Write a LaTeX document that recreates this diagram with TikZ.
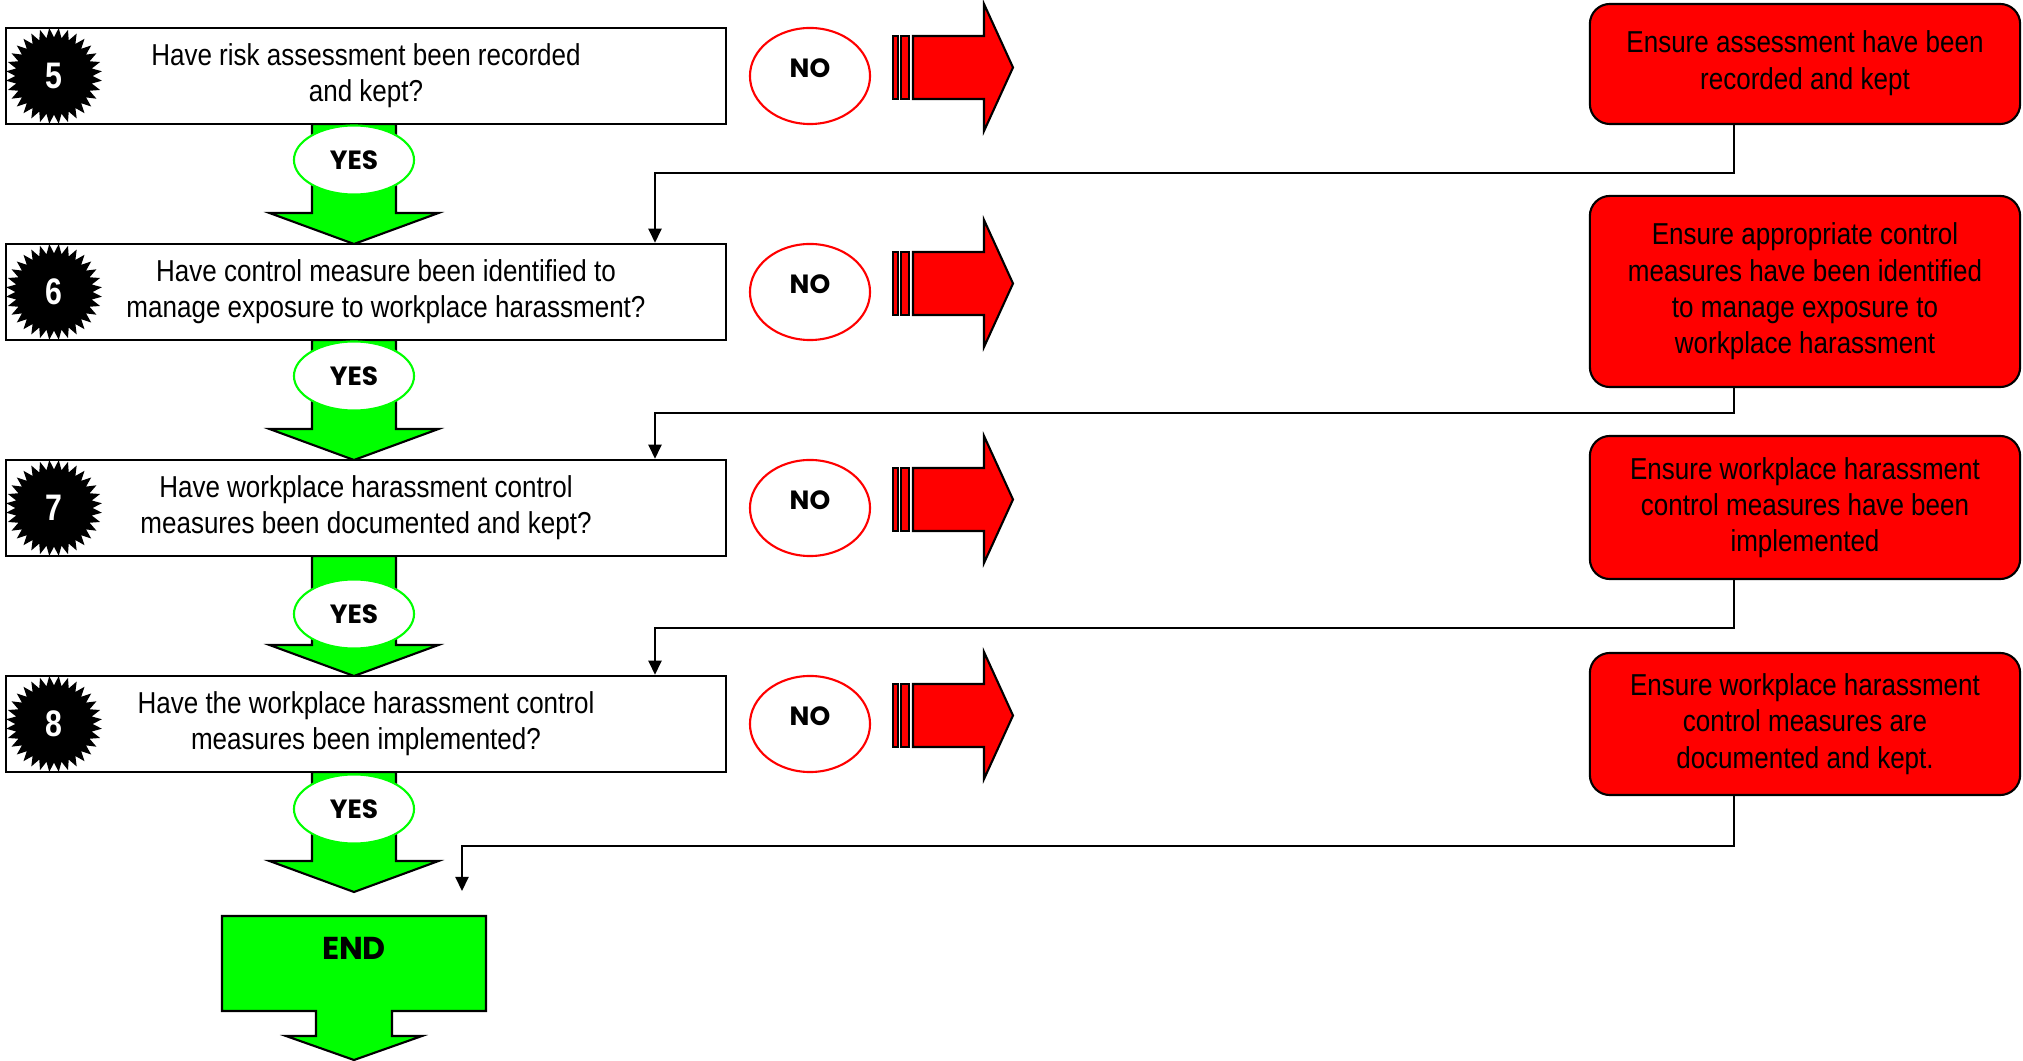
\documentclass[tikz,border=0pt]{standalone}
\usepackage{fontspec}
\setmainfont{Liberation Sans}[FakeStretch=0.86]
\newfontfamily\gothicfont{Poppins}
\newfontfamily\numfont{Liberation Sans}[FakeStretch=0.82]
\usetikzlibrary{shapes.geometric, arrows.meta, calc}
\definecolor{alarm}{HTML}{FF0000}
\definecolor{go}{HTML}{00FF00}
\begin{document}
\begin{tikzpicture}[
  x=0.01cm, y=-0.01cm,
  font=\fontsize{8.6}{10.3}\selectfont,
  question/.style={draw, line width=0.7pt, fill=white, minimum width=7.2cm, minimum height=0.96cm, align=center, inner sep=0pt},
  badge/.style={star, star points=32, star point ratio=0.8, fill=black, minimum size=0.77cm, inner sep=0pt, text=white, font=\numfont\bfseries\fontsize{10.5}{11}\selectfont},
  noball/.style={ellipse, draw=alarm, line width=0.6pt, fill=white, minimum width=1.2cm, minimum height=0.96cm, inner sep=0pt, text height=5.3pt, text depth=4.6pt, font=\gothicfont\bfseries\fontsize{7.5}{8}\selectfont},
  yesball/.style={ellipse, draw=go, line width=0.6pt, fill=white, minimum width=1.2cm, minimum height=0.69cm, inner sep=0pt, font=\gothicfont\bfseries\fontsize{7.5}{8}\selectfont},
  fixbox/.style={draw, line width=0.6pt, fill=alarm, rounded corners=0.2cm, minimum width=4.3cm, align=center, inner sep=0pt},
  link/.style={-{Triangle[length=1.4mm, width=1.3mm]}, line width=0.6pt},
  stopfill/.style={draw, line width=0.6pt, fill=alarm},
  gofill/.style={draw, line width=0.6pt, fill=go},
  noarrow/.pic={
    \draw[stopfill] (-20,-31.5) rectangle (-15,31.5) (-12,-31.5) rectangle (-4,31.5);
    \draw[stopfill] (0,-31.5) -- (71,-31.5) -- (71,-63.5) -- (100,0) -- (71,63.5) -- (71,31.5) -- (0,31.5) -- cycle;
  },
  yesarrow/.pic={
    \draw[gofill] (-42,0) -- (-42,89) -- (-84.5,89) -- (0,120) -- (84.5,89) -- (42,89) -- (42,0) -- cycle;
  },
]
\useasboundingbox (0,0) rectangle (2023,1061);

% yes arrows between the questions
\pic at (354,124) {yesarrow};
\pic at (354,340) {yesarrow};
\pic at (354,556) {yesarrow};
\pic at (354,772) {yesarrow};

\node[question] (q5) at (366,76)  {Have risk assessment been recorded\\and kept?};
\node[question] (q6) at (366,292) {\hspace*{0.4cm}Have control measure been identified to\\\hspace*{0.4cm}manage exposure to workplace harassment?};
\node[question] (q7) at (366,508) {Have workplace harassment control\\measures been documented and kept?};
\node[question] (q8) at (366,724) {Have the workplace harassment control\\measures been implemented?};

\node[badge] (b5) at (54,76)  {5};
\node[badge] (b6) at (54,292) {6};
\node[badge] (b7) at (54,508) {7};
\node[badge] (b8) at (54,724) {8};

\node[yesball] (yes5) at (354,160) {YES};
\node[yesball] (yes6) at (354,376) {YES};
\node[yesball] (yes7) at (354,614) {YES};
\node[yesball] (yes8) at (354,809) {YES};

\node[noball] (no5) at (810,76)  {NO};
\node[noball] (no6) at (810,292) {NO};
\node[noball] (no7) at (810,508) {NO};
\node[noball] (no8) at (810,724) {NO};

\pic at (913,67.5)  {noarrow};
\pic at (913,283.5) {noarrow};
\pic at (913,499.5) {noarrow};
\pic at (913,715.5) {noarrow};

\node[fixbox, minimum height=1.2cm]  (fix5) at (1805,64)    {Ensure assessment have been\\recorded and kept\\[-8pt]};
\node[fixbox, minimum height=1.91cm] (fix6) at (1805,291.5) {Ensure appropriate control\\measures have been identified\\to manage exposure to\\workplace harassment};
\node[fixbox, minimum height=1.43cm] (fix7) at (1805,507.5) {Ensure workplace harassment\\control measures have been\\implemented};
\node[fixbox, minimum height=1.42cm] (fix8) at (1805,724)   {Ensure workplace harassment\\control measures are\\documented and kept.};

% end block
\draw[gofill] (222,916) -- (486,916) -- (486,1011) -- (392,1011) -- (392,1036) -- (422,1036) -- (354,1060)
  -- (286,1036) -- (316,1036) -- (316,1011) -- (222,1011) -- cycle;
\node[font=\gothicfont\bfseries\fontsize{9}{10}\selectfont] (end) at (354,948) {END};

% return lines
\coordinate (up) at (1734,0);
\coordinate (down) at (655,0);
\coordinate (stop) at (462,891);
\draw[link] (fix5.south -| up) -- ++(0,48) -| (q6.north -| down);
\draw[link] (fix6.south -| up) -- ++(0,25) -| (q7.north -| down);
\draw[link] (fix7.south -| up) -- ++(0,48) -| (q8.north -| down);
\draw[link] (fix8.south -| up) -- ++(0,50) -| (stop);
\end{tikzpicture}
\end{document}
